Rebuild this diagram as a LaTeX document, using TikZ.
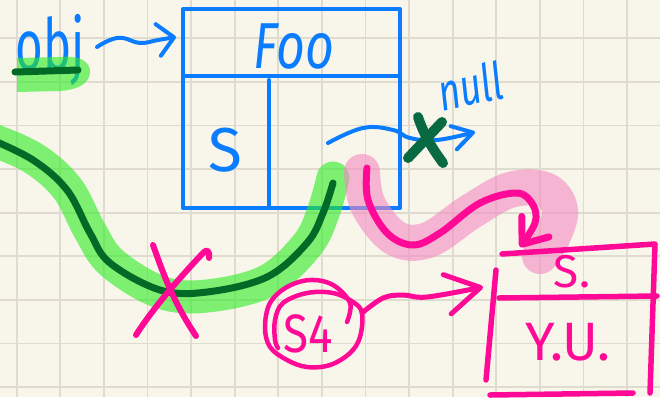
\documentclass[tikz,border=0pt]{standalone}
\usepackage{fontspec}
\setmainfont{Fira Sans}
\usetikzlibrary{arrows.meta}
\definecolor{paper}{RGB}{248,245,234}
\definecolor{gridline}{RGB}{223,220,207}
\definecolor{inkblue}{RGB}{10,124,255}
\definecolor{inkpink}{RGB}{255,10,150}
\definecolor{inkgreen}{RGB}{0,106,38}
\definecolor{xgreen}{RGB}{8,106,66}
\definecolor{hlgreen}{RGB}{43,237,35}
\definecolor{hlpink}{RGB}{243,137,193}
\begin{document}
\begin{tikzpicture}[x=1pt,y=-1pt,
  gridrule/.style={draw=gridline,line width=1.8pt},
  ink/.style={line width=#1,line cap=round,line join=round},
  bluepen/.style={draw=inkblue,ink=4pt},
  pinkpen/.style={draw=inkpink,ink=5.5pt},
  greenpen/.style={draw=inkgreen,ink=7pt},
  hlgreenpen/.style={draw=hlgreen,ink=33pt,draw opacity=0.6},
  hlpinkpen/.style={draw=hlpink,ink=36pt,draw opacity=0.6},
  label/.style={inner sep=0pt,outer sep=0pt},
  barb/.style n args={2}{-{Straight Barb[length=#1,width=#2,round]}},
]
\useasboundingbox (0,0) rectangle (660,397);
\begin{scope}
\clip (0,0) rectangle (660,397);
% squared paper
\fill[paper] (0,0) rectangle (660,397);
\foreach \i in {0,...,14} \draw[gridrule] ({16.6+43.6*\i},0) -- ++(0,397);
\foreach \j in {0,...,8} \draw[gridrule] (0,{38.3+43.6*\j}) -- ++(660,0);

% the Foo object
\draw[bluepen] (183,9) rectangle (400,208);
\draw[bluepen] (183,76) -- (400,76);
\draw[bluepen] (269,80) -- (269,208);
\node[label,text=inkblue,font=\fontsize{50}{50}\selectfont\itshape] (fooLabel) at (294,46) {\scalebox{1}[1.3]{Foo}};
\node[label,text=inkblue,font=\fontsize{62}{62}\selectfont] (sLabel) at (225,150) {S};

% the variable obj
\node[label,text=inkblue,font=\fontsize{72}{72}\selectfont] (objLabel) at (50,50) {\scalebox{0.66}[1]{obj}};
\coordinate (objTail) at (97,47);
\coordinate (fooIn) at (176,37);
\draw[bluepen,barb={16pt}{32pt}] plot[smooth,tension=0.7] coordinates {(objTail) (110,40) (123,38) (140,43) (158,40) (fooIn)};

% pointer field to null
\node[label,text=inkblue,font=\fontsize{52}{52}\selectfont\itshape,rotate=12] (nullLabel) at (470,86) {\scalebox{0.72}[1]{null}};
\coordinate (ptrTail) at (328,143);
\coordinate (nullIn) at (475,132);
\draw[bluepen,barb={20pt}{24pt}] plot[smooth,tension=0.7] coordinates {(ptrTail) (363,128) (393,130) (410,138) (437,140) (nullIn)};

% highlighter strokes
\coordinate (oldStart) at (-10,139);
\coordinate (oldEnd) at (333,183);
\draw[hlgreenpen] plot[smooth,tension=0.6] coordinates {(-10,139) (33,158) (67,188) (90,231) (112,263) (160,292) (207,296) (267,281) (307,245) (323,213) (333,178)};
\fill[hlgreen,opacity=0.6] (17,58) -- (60,57) .. controls (80,55) and (91,62) .. (90,73) .. controls (89,85) and (75,90) .. (60,91) -- (17,92) -- cycle;
\draw[hlpinkpen] plot[smooth,tension=0.6] coordinates {(362,172) (368,205) (395,238) (428,240) (470,212) (510,190) (545,190) (560,210) (552,238) (540,256)};

% crossed-out old reference
\draw[greenpen] plot[smooth,tension=0.6] coordinates {(oldStart) (33,160) (67,190) (90,233) (110,263) (160,290) (207,292) (267,277) (307,243) (323,213) (oldEnd)};
\draw[greenpen] (15,72) -- (78,70);
\draw[pinkpen,ink=6pt] (153,245) .. controls (162,270) and (172,300) .. (196,336);
\draw[pinkpen,ink=6pt] (209,258) .. controls (210,251) and (207,249) .. (204,252) .. controls (185,272) and (155,305) .. (136,335);
\draw[draw=xgreen,ink=10pt] (418,117) .. controls (424,135) and (432,148) .. (443,163);
\draw[draw=xgreen,ink=10pt] (442,122) -- (408,158);

% the new S.Y.U. object
\draw[pinkpen] (502,254) -- (655,244) -- (650,393);
\draw[pinkpen] (496,270) -- (486,380);
\draw[pinkpen] (499,298) -- (657,296);
\draw[pinkpen] (490,395) -- (633,393);
\node[label,text=inkpink,font=\fontsize{46}{46}\selectfont] (sDot) at (572,272) {S.};
\node[label,text=inkpink,font=\fontsize{54}{54}\selectfont] (yuLabel) at (568,342) {Y.U.};
\coordinate (boxTop) at (520,247);
\coordinate (boxIn) at (483,287);

% new reference from the pointer field
\coordinate (newTail) at (367,168);
\draw[pinkpen,ink=7pt,barb={22pt}{34pt}] plot[smooth,tension=0.6] coordinates {(newTail) (368,200) (387,233) (413,245) (440,233) (480,203) (517,193) (533,205) (535,223) (boxTop)};

% the S4 label and its reference
\node[label,text=inkpink,font=\fontsize{54}{54}\selectfont] (s4Label) at (308,334) {\scalebox{0.85}[1]{S4}};
\draw[pinkpen,ink=4.5pt] plot[smooth,tension=0.6] coordinates {(347,322) (350,303) (333,285) (310,280) (287,287) (270,303) (265,327) (270,347) (287,360) (307,367) (330,365) (350,353) (360,337) (362,313) (353,302) (333,293) (307,293) (283,303) (275,320) (275,340) (278,348)};
\coordinate (s4Out) at (362,313);
\draw[pinkpen,ink=5pt,barb={34pt}{40pt}] plot[smooth,tension=0.6] coordinates {(s4Out) (383,298) (403,295) (427,297) (boxIn)};
\end{scope}
\end{tikzpicture}
\end{document}
